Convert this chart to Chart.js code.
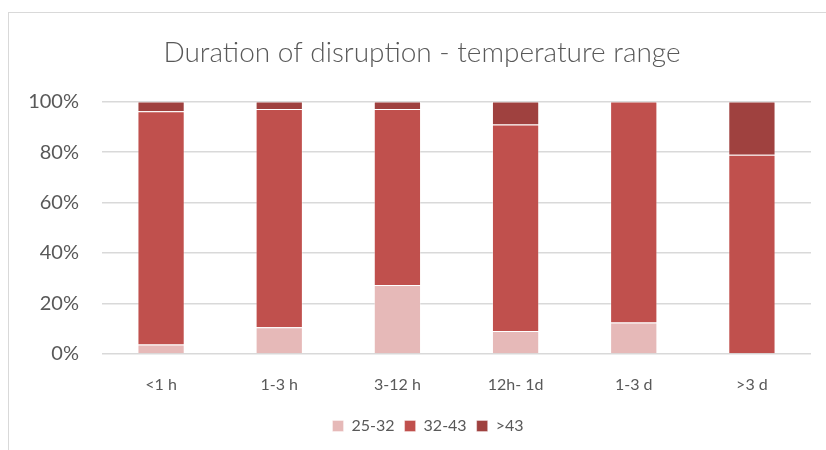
<!DOCTYPE html>
<html>
<head>
<meta charset="utf-8">
<script src="https://cdn.jsdelivr.net/npm/chart.js@4"></script>
<style>
  html, body { margin: 0; padding: 0; background: #ffffff; }
  #wrap { width: 826px; height: 450px; position: relative; }
</style>
</head>
<body>
<div id="wrap"><canvas id="chart" width="826" height="450"></canvas></div>
<script>
// Share of disruptions per temperature band, by duration (percent of each duration)
const durations = ['<1 h', '1-3 h', '3-12 h', '12h- 1d', '1-3 d', '>3 d'];
const band25to32 = [3.8, 10.6, 27.3, 9.1, 12.5, 0];
const band32to43 = [92.4, 86.5, 69.8, 81.8, 87.5, 78.9];
const bandOver43 = [3.8, 2.9, 2.9, 9.1, 0, 21.1];
const yTicks = [0, 20, 40, 60, 80, 100];

const FONT = 'Lato, "Open Sans", sans-serif';
const TEXT = '#595959';
const GRID = '#d9d9d9';

// Light outer frame around the chart
const framePlugin = {
  id: 'frame',
  beforeDraw(chart) {
    const ctx = chart.ctx;
    ctx.save();
    ctx.strokeStyle = GRID;
    ctx.lineWidth = 1;
    ctx.strokeRect(8.5, 12.5, 900, 500);
    ctx.restore();
  }
};

// Centre title and legend on the whole frame rather than on the plot width
const centreBlocks = {
  id: 'centreBlocks',
  afterLayout(chart) {
    if (chart.titleBlock) chart.titleBlock.left += 33;
    if (chart.legend) chart.legend.left += 45;
  }
};

const edge = 'rgba(255,255,255,0.35)';

new Chart(document.getElementById('chart'), {
  type: 'bar',
  data: {
    labels: durations,
    datasets: [
      { label: '25-32', data: band25to32, backgroundColor: '#E6B9B8', borderColor: edge, borderWidth: 1 },
      { label: '32-43', data: band32to43, backgroundColor: '#C0504D', borderColor: edge, borderWidth: 1 },
      { label: '>43', data: bandOver43, backgroundColor: '#9F413F', borderColor: edge, borderWidth: 1 }
    ]
  },
  options: {
    responsive: false,
    animation: false,
    devicePixelRatio: 1,
    layout: { padding: { left: 0, right: 15, top: 0, bottom: 6 } },
    datasets: { bar: { categoryPercentage: 1, barPercentage: 0.4 } },
    plugins: {
      title: {
        display: true,
        text: 'Duration of disruption - temperature range',
        color: TEXT,
        font: { family: FONT, size: 28, weight: 300 },
        padding: { top: 36, bottom: 32 }
      },
      legend: {
        position: 'bottom',
        labels: {
          color: TEXT,
          font: { family: FONT, size: 16 },
          boxWidth: 11,
          boxHeight: 11,
          padding: 10
        }
      },
      tooltip: { enabled: false }
    },
    scales: {
      x: {
        stacked: true,
        grid: { display: false, drawTicks: false },
        border: { display: false },
        ticks: { color: TEXT, font: { family: FONT, size: 16 }, padding: 21 },
        afterFit(scale) { scale.height = 54; }
      },
      y: {
        stacked: true,
        min: 0,
        max: 100,
        afterBuildTicks(scale) { scale.ticks = yTicks.map(v => ({ value: v })); },
        grid: { color: GRID, lineWidth: 1.5, drawTicks: false },
        border: { display: false },
        ticks: {
          color: TEXT,
          font: { family: FONT, size: 20 },
          padding: 23,
          callback: v => v + '%'
        },
        afterFit(scale) { scale.width = 102; }
      }
    }
  },
  plugins: [framePlugin, centreBlocks]
});
</script>
</body>
</html>
